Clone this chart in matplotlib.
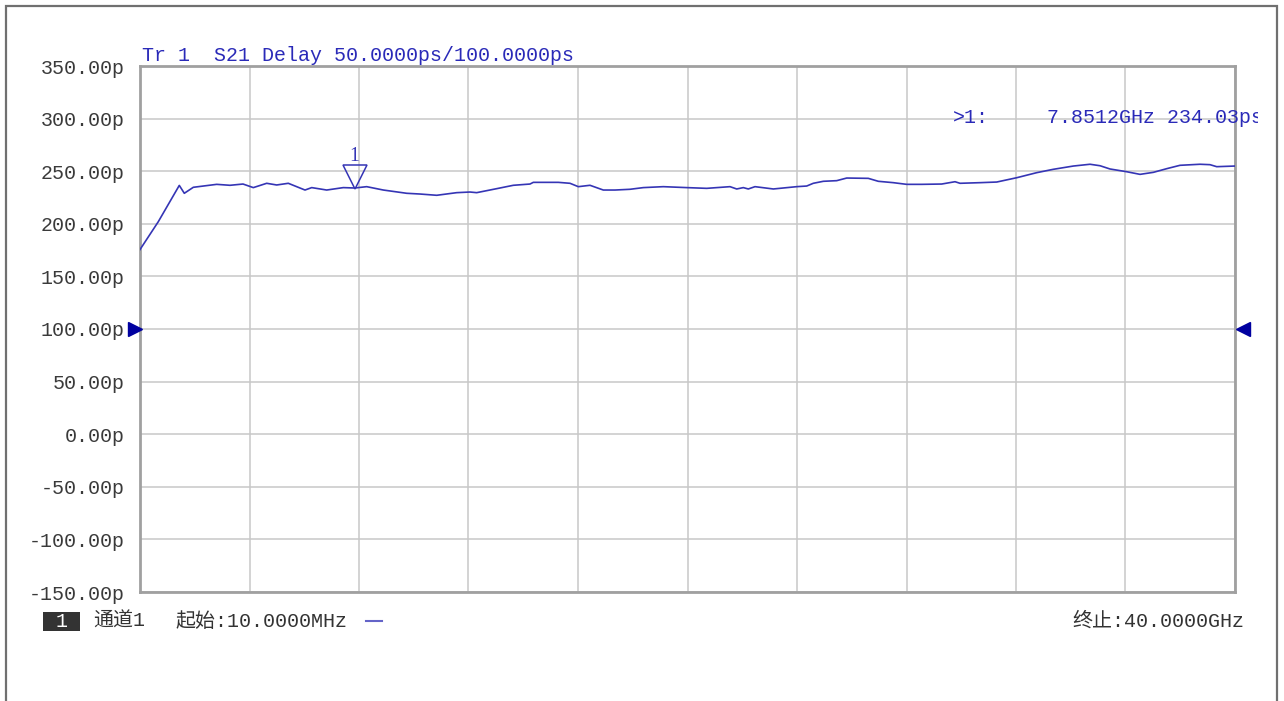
import matplotlib
matplotlib.use("Agg")
import matplotlib.pyplot as plt
import matplotlib.transforms as mtransforms
from matplotlib.patches import Rectangle

# ---------------- data ----------------
freq_ghz = [0.01, 0.678, 1.445, 1.628, 1.957, 2.811, 3.297, 3.772, 4.148, 4.637,
            5.002, 5.426, 6.036, 6.281, 6.828, 7.435, 7.8512, 8.289, 8.896, 9.750,
            10.236, 10.846, 11.576, 12.062, 12.306, 13.037, 13.643, 14.253, 14.374,
            15.287, 15.714, 16.017, 16.444, 16.930, 17.357, 17.905, 18.391, 19.121,
            19.976, 20.706, 21.557, 21.802, 22.043, 22.225, 22.470, 23.139, 23.993,
            24.358, 24.599, 24.965, 25.454, 25.819, 26.608, 26.973, 27.521, 28.010,
            28.558, 29.288, 29.775, 29.957, 30.688, 31.298, 32.028, 32.758, 33.365,
            34.095, 34.705, 35.070, 35.436, 36.045, 36.531, 37.017, 37.506, 37.992,
            38.722, 39.087, 39.332, 40.0]
delay_ps = [175.5, 202.0, 236.5, 229.0, 234.7, 237.5, 236.6, 237.8, 234.4, 238.5,
            236.9, 238.5, 232.1, 234.4, 232.1, 234.4, 234.03, 235.3, 232.1, 229.0,
            228.3, 227.1, 229.6, 230.2, 229.6, 233.4, 236.6, 237.8, 239.4,
            239.4, 238.5, 235.3, 236.6, 232.1, 232.1, 232.8, 234.4, 235.3,
            234.4, 233.7, 235.3, 233.1, 234.4, 233.1, 235.3, 233.1, 235.3,
            235.9, 238.5, 240.4, 241.0, 243.5, 243.2, 240.4, 239.1, 237.5,
            237.5, 237.8, 240.0, 238.5, 239.1, 239.7, 243.8, 248.6, 251.8,
            254.9, 256.6, 255.2, 252.1, 249.5, 247.0, 248.9, 252.4, 255.6,
            256.6, 256.2, 254.3, 254.9]

start_ghz = 0.01
stop_ghz = 40.0
y_min, y_max, y_step = -150, 350, 50
ref_level = 100
marker_freq = 7.8512
marker_val = 234.03

title_text = "Tr 1  S21 Delay 50.0000ps/100.0000ps"
marker_id = ">1:"
marker_readout = "7.8512GHz 234.03ps"
chan_box = "1"
chan_text = "通道1"
start_text = "起始:10.0000MHz"
stop_text = "终止:40.0000GHz"

# ---------------- figure ----------------
W, H = 1284, 701
fig = plt.figure(figsize=(W / 100, H / 100), dpi=100)
fig.patch.set_facecolor("white")

def fx(x):
    return x / W

def fy(y):
    return 1 - y / H

MONO = ["Liberation Mono", "Noto Sans CJK SC"]
FS = 14.4

ax = fig.add_axes([fx(140), fy(592), 1095 / W, 526 / H])
ax.set_xlim(start_ghz, stop_ghz)
ax.set_ylim(y_min, y_max)

xt = [start_ghz + i * (stop_ghz - start_ghz) / 10 for i in range(11)]
ax.set_xticks(xt)
ax.set_xticklabels([])
yt = list(range(y_min, y_max + 1, y_step))
ax.set_yticks(yt)
ax.set_yticklabels([f"{v:.2f}p" for v in yt])
ax.tick_params(axis="both", length=0)
ax.tick_params(axis="y", pad=11, labelsize=FS, labelcolor="#3a3a3a")
for lab in ax.get_yticklabels():
    lab.set_fontfamily(MONO)
ax.grid(True, color="#c8c8c8", linewidth=1.1)
ax.set_axisbelow(True)
for sp in ax.spines.values():
    sp.set_color("#a0a0a0")
    sp.set_linewidth(2)

trace_color = "#3535b5"
ax.plot(freq_ghz, delay_ps, color=trace_color, linewidth=1.2, zorder=3)

# marker 1 (triangle pointing down, apex on trace)
ax.plot([marker_freq], [marker_val], marker="v", markersize=17,
        markerfacecolor="none", markeredgecolor=trace_color, markeredgewidth=1.1,
        transform=mtransforms.offset_copy(ax.transData, fig=fig, x=0, y=11, units="dots"),
        clip_on=False, zorder=4)
ax.text(marker_freq, marker_val, "1", color=trace_color, fontsize=FS,
        fontfamily="Liberation Serif", ha="center", va="baseline",
        transform=mtransforms.offset_copy(ax.transData, fig=fig, x=0, y=27, units="dots"))

# reference level triangles
bt = mtransforms.blended_transform_factory(ax.transAxes, ax.transData)
ax.plot([0], [ref_level], marker=">", markersize=10, color="#0000a0", linestyle="none",
        transform=mtransforms.offset_copy(bt, fig=fig, x=-5, y=0, units="dots"),
        clip_on=False, zorder=5)
ax.plot([1], [ref_level], marker="<", markersize=10, color="#0000a0", linestyle="none",
        transform=mtransforms.offset_copy(bt, fig=fig, x=8, y=0, units="dots"),
        clip_on=False, zorder=5)

# outer frame
fig.patches.append(Rectangle((fx(6), fy(720)), (1277 - 6) / W, (720 - 6) / H,
                             transform=fig.transFigure, fill=False,
                             edgecolor="#707070", linewidth=1.6))

blue_text = "#2a2ab8"
fig.text(fx(142), fy(61), title_text, color=blue_text, fontsize=FS,
         fontfamily=MONO, ha="left", va="baseline")

clip_rect = Rectangle((fx(900), fy(140)), (1258 - 900) / W, 60 / H,
                      transform=fig.transFigure, visible=False)
fig.patches.append(clip_rect)
fig.text(fx(953), fy(123), marker_id, color=blue_text, fontsize=FS,
         fontfamily=MONO, ha="left", va="baseline")
t2 = fig.text(fx(1047), fy(123), marker_readout, color=blue_text, fontsize=FS,
              fontfamily=MONO, ha="left", va="baseline")
t2.set_clip_path(clip_rect)

# bottom status line
fig.patches.append(Rectangle((fx(43), fy(631)), 37 / W, 19 / H,
                             transform=fig.transFigure, facecolor="#333333",
                             edgecolor="none"))
fig.text(fx(61.5), fy(627), chan_box, color="white", fontsize=FS,
         fontfamily=MONO, ha="center", va="baseline")
fig.text(fx(93), fy(627), chan_text, color="#333333", fontsize=FS,
         fontfamily=MONO, ha="left", va="baseline")
fig.text(fx(175), fy(627), start_text, color="#333333", fontsize=FS,
         fontfamily=MONO, ha="left", va="baseline")
fig.lines.append(plt.Line2D([fx(366), fx(382)], [fy(621), fy(621)],
                            transform=fig.transFigure, color="#6464c8", linewidth=1.5))
fig.text(fx(1244), fy(627), stop_text, color="#333333", fontsize=FS,
         fontfamily=MONO, ha="right", va="baseline")

fig.savefig("out.png", dpi=100)
